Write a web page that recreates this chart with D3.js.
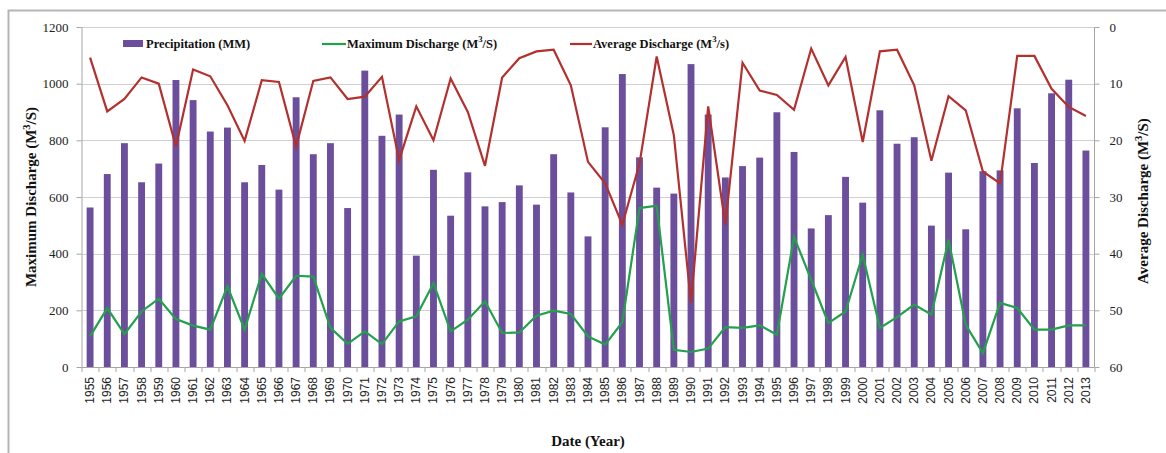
<!DOCTYPE html>
<meta charset="utf-8">
<style>
body { margin: 0; background: #fff; }
.axis text { font: 13px "Liberation Serif", "Times New Roman", serif; fill: #222; }
.axis path, .axis line { stroke: #a6a6a6; }
.xaxis text { font: 12px "Liberation Sans", Arial, sans-serif; fill: #222; }
.grid line { stroke: #d0d0d0; }
.title { font: bold 15px "Liberation Serif", "Times New Roman", serif; fill: #111; }
.legend text { font: bold 12.5px "Liberation Serif", "Times New Roman", serif; fill: #111; }
</style>
<svg width="1166" height="453"></svg>
<script src="https://cdn.jsdelivr.net/npm/d3@7"></script>
<script>

var years = d3.range(1955, 2014);

var precipitation = [563, 681, 790, 652, 718, 1013, 942, 831, 845, 652,
  713, 626, 952, 751, 790, 561, 1046, 816, 891, 393,
  696, 534, 687, 567, 582, 641, 573, 751, 616, 461,
  846, 1034, 740, 633, 612, 1069, 891, 669, 709, 739,
  899, 759, 489, 536, 671, 580, 906, 788, 811, 499,
  686, 486, 691, 694, 913, 720, 966, 1014, 764];

var maxDischarge = [108, 208, 116, 196, 241, 169, 146, 132, 285, 132,
  329, 241, 322, 319, 138, 82, 126, 81, 161, 179,
  296, 126, 167, 232, 120, 122, 181, 199, 187, 108,
  79, 158, 561, 569, 61, 53, 65, 141, 138, 147,
  114, 459, 308, 155, 196, 396, 138, 176, 220, 185,
  449, 149, 49, 226, 208, 132, 132, 147, 147];

var avgDischarge = [5.4, 14.9, 12.7, 8.9, 10.0, 21.1, 7.5, 8.7, 13.8, 20.1,
  9.4, 9.7, 21.1, 9.5, 8.9, 12.7, 12.3, 8.8, 23.5, 14.0,
  20.0, 9.1, 15.0, 24.5, 8.9, 5.5, 4.3, 4.0, 10.3, 23.8,
  27.6, 34.9, 24.1, 5.2, 19.1, 48.7, 14.0, 34.9, 6.3, 11.2,
  12.0, 14.6, 3.8, 10.3, 5.3, 20.3, 4.3, 4.0, 10.3, 23.6,
  12.2, 14.7, 25.5, 27.6, 5.1, 5.1, 10.9, 14.1, 15.7];

var leftTicks = [0, 200, 400, 600, 800, 1000, 1200];
var rightTicks = [0, 10, 20, 30, 40, 50, 60];

var svg = d3.select("svg");
var margin = {left: 81.5, right: 71.5, top: 27, bottom: 86};
var width = 1166 - margin.left - margin.right,
    height = 453 - margin.top - margin.bottom;

// frame round the figure
svg.append("path")
    .attr("d", "M8.5,453V10.5H1166")
    .attr("fill", "none")
    .attr("stroke", "#b5b5b5")
    .attr("stroke-width", 2);

var g = svg.append("g").attr("transform", "translate(" + margin.left + "," + margin.top + ")");

var x = d3.scaleBand().domain(years).range([0, width]).paddingInner(0.6).paddingOuter(0.3);
var y = d3.scaleLinear().domain([0, 1200]).range([height, 0]);
var y2 = d3.scaleLinear().domain([0, 60]).range([0, height]);

g.append("g").attr("class", "grid")
  .selectAll("line").data(leftTicks.slice(1)).enter().append("line")
    .attr("x1", 0).attr("x2", width)
    .attr("y1", function(d) { return Math.round(y(d)) + 0.5; })
    .attr("y2", function(d) { return Math.round(y(d)) + 0.5; });

g.append("g").attr("class", "bars")
  .selectAll("rect").data(precipitation).enter().append("rect")
    .attr("x", function(d, i) { return x(years[i]); })
    .attr("width", x.bandwidth())
    .attr("y", function(d) { return y(d); })
    .attr("height", function(d) { return height - y(d); })
    .attr("fill", "#6b4f9c");

var cx = function(d, i) { return x(years[i]) + x.bandwidth() / 2; };

g.append("path").datum(maxDischarge)
    .attr("fill", "none").attr("stroke", "#22a04b").attr("stroke-width", 2.2)
    .attr("d", d3.line().x(cx).y(function(d) { return y(d); }));

g.append("path").datum(avgDischarge)
    .attr("fill", "none").attr("stroke", "#b3302e").attr("stroke-width", 2.2)
    .attr("d", d3.line().x(cx).y(function(d) { return y2(d); }));

// axes
g.append("g").attr("class", "axis")
    .call(d3.axisLeft(y).tickValues(leftTicks).tickFormat(d3.format("d")).tickSize(5).tickPadding(8))
    .call(function(s) { s.select(".domain").attr("d", "M0.5,0V" + height); });

g.append("g").attr("class", "axis")
    .attr("transform", "translate(" + width + ",0)")
    .call(d3.axisRight(y2).tickValues(rightTicks).tickSize(5).tickPadding(10))
    .call(function(s) { s.select(".domain").attr("d", "M0,0V" + height); });

var step = x.step();
var xa = g.append("g").attr("class", "axis xaxis")
    .attr("transform", "translate(0," + height + ")");
xa.append("line").attr("x1", 0).attr("x2", width).attr("y1", 0.5).attr("y2", 0.5);
xa.selectAll(".tk").data(d3.range(years.length + 1)).enter().append("line")
    .attr("x1", function(i) { return Math.round(x(years[0]) - x.bandwidth() * 0.75 + i * step) + 0.5; })
    .attr("x2", function(i) { return Math.round(x(years[0]) - x.bandwidth() * 0.75 + i * step) + 0.5; })
    .attr("y1", 0).attr("y2", 5);
xa.selectAll("text").data(years).enter().append("text")
    .attr("transform", function(d) { return "translate(" + (x(d) + x.bandwidth() / 2 + 4) + ",10) rotate(-90)"; })
    .attr("text-anchor", "end")
    .text(function(d) { return d; });

// axis titles
function supTitle(sel, a, b) {
  sel.append("tspan").text(a);
  sel.append("tspan").attr("dy", -6).attr("font-size", "0.7em").text("3");
  sel.append("tspan").attr("dy", 6).text(b);
}

svg.append("text").attr("class", "title")
    .attr("x", margin.left + width / 2).attr("y", 446)
    .attr("text-anchor", "middle").text("Date (Year)");

svg.append("text").attr("class", "title")
    .attr("transform", "translate(36," + (margin.top + height / 2) + ") rotate(-90)")
    .attr("text-anchor", "middle")
    .call(supTitle, "Maximum Discharge (M", "/S)");

svg.append("text").attr("class", "title")
    .attr("transform", "translate(1148," + (margin.top + height / 2 + 4) + ") rotate(-90)")
    .attr("text-anchor", "middle")
    .call(supTitle, "Average Discharge (M", "/S)");

// legend
var legend = svg.append("g").attr("class", "legend");
legend.append("rect").attr("x", 123).attr("y", 40).attr("width", 20).attr("height", 7).attr("fill", "#6b4f9c");
legend.append("text").attr("x", 146).attr("y", 48).text("Precipitation (MM)");
legend.append("line").attr("x1", 322).attr("x2", 346).attr("y1", 44).attr("y2", 44)
    .attr("stroke", "#22a04b").attr("stroke-width", 2.2);
legend.append("text").attr("x", 347).attr("y", 48).call(supTitle, "Maximum Discharge (M", "/S)");
legend.append("line").attr("x1", 570).attr("x2", 592).attr("y1", 44).attr("y2", 44)
    .attr("stroke", "#b3302e").attr("stroke-width", 2.2);
legend.append("text").attr("x", 593).attr("y", 48).call(supTitle, "Average Discharge (M", "/s)");

</script>
